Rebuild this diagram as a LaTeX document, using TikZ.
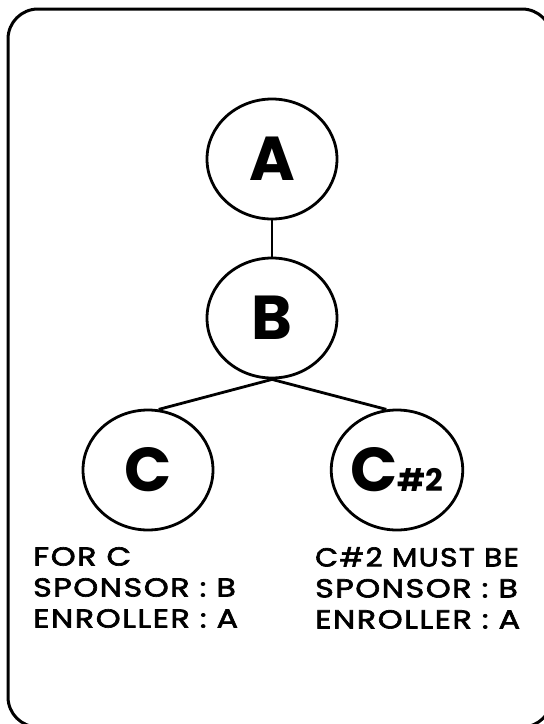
\documentclass[tikz,border=0pt]{standalone}
\usepackage{fontspec}
\usepackage{graphicx}
\setmainfont{Poppins}
\newfontfamily\notefont[LetterSpace=6,FakeStretch=1.22,FakeBold=2.5]{Poppins}
\usetikzlibrary{shapes.geometric}
\tikzset{
  member/.style={draw, ellipse, line width=2.8pt, minimum width=130pt, minimum height=120pt, inner sep=0pt,
    font=\bfseries\fontsize{62}{62}\selectfont},
  link/.style={line width=2.8pt},
  frame/.style={line width=3pt, rounded corners=30pt},
  note/.style={anchor=north west, inner sep=0pt, align=left, font=\notefont\fontsize{26}{31}\selectfont}
}
\begin{document}
\begin{tikzpicture}[x=1pt, y=-1pt]
\useasboundingbox (0,0) rectangle (544,724);
\clip (0,0) rectangle (544,724);
\draw[frame] (8,9) rectangle (552,727);
\node[member] (A) at (272,159) {A};
\node[member] (B) at (272,318) {B};
\node[member] (C) at (148,470) {C};
\node[member] (C2) at (397,470) {C{\fontsize{31}{31}\selectfont\#2}};
\draw[link] (A) -- (B);
\draw[link] (B.south) -- (C.80);
\draw[link] (B.south) -- (C2.100);
\node[note] (n1) at (33,547) {FOR C\\SPONSOR : B\\ENROLLER : A};
\node[note] (n2) at (315,547) {\scalebox{0.93}[1]{C\#2 MUST BE}\\SPONSOR : B\\ENROLLER : A};
\end{tikzpicture}
\end{document}
